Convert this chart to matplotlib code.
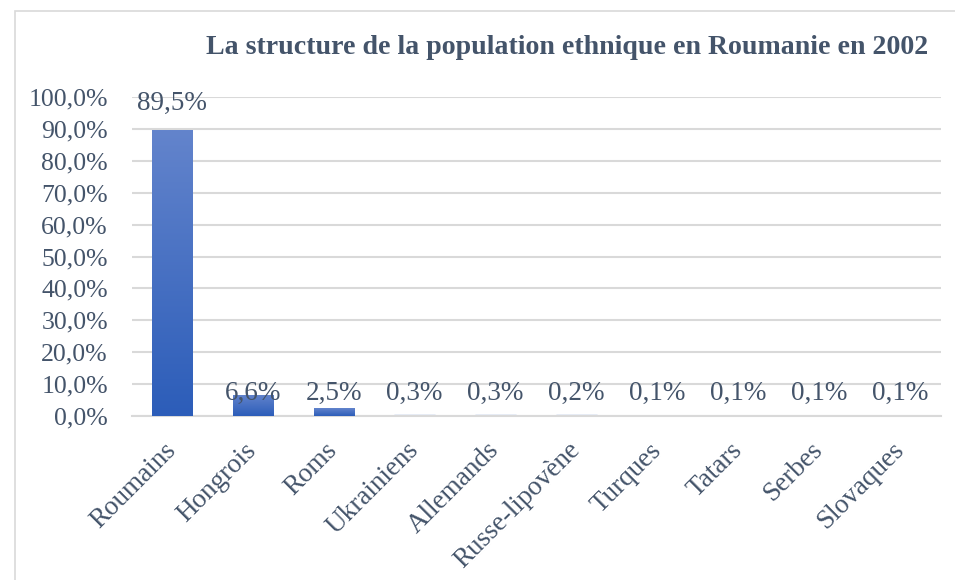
import matplotlib
matplotlib.use("Agg")
import matplotlib.pyplot as plt
import numpy as np
from matplotlib.colors import LinearSegmentedColormap
from matplotlib.patches import Rectangle

categories = ["Roumains", "Hongrois", "Roms", "Ukrainiens", "Allemands",
              "Russe-lipovène", "Turques", "Tatars", "Serbes", "Slovaques"]
values = [89.5, 6.6, 2.5, 0.3, 0.3, 0.2, 0.1, 0.1, 0.1, 0.1]
yticks = [0, 10, 20, 30, 40, 50, 60, 70, 80, 90, 100]
title = "La structure de la population ethnique en Roumanie en 2002"

txt = "#44546A"
grid = "#D9D9D9"
plt.rcParams['font.family'] = ['Liberation Serif', 'DejaVu Serif']

fig = plt.figure(figsize=(9.55, 5.8), dpi=100)
W, H = 955, 580
ax = fig.add_axes([131.5 / W, 1 - 416 / H, (940.5 - 131.5) / W, (416 - 97) / H])

# outer border
fig.patches.append(Rectangle((15 / W, -0.01), 1.0, 1 - 11 / H + 0.01, transform=fig.transFigure,
                             fill=False, edgecolor="#D9D9D9", lw=1.2))

x = np.arange(len(categories))
bars = ax.bar(x, values, width=0.5, color="#4A75C9", zorder=2)
cmap = LinearSegmentedColormap.from_list("g", ["#2C5DB9", "#6384CC"])
grad = np.linspace(0, 1, 256).reshape(-1, 1)
for b in bars:
    x0 = b.get_x(); w = b.get_width(); h = b.get_height()
    if h < 1:
        b.set_color("#8FA8DC")
        continue
    im = ax.imshow(grad, extent=[x0, x0 + w, 0, h], origin="lower", aspect="auto",
                   cmap=cmap, zorder=3)
    im.set_clip_path(b)

for xi, v in zip(x, values):
    ypos = v + 8.6 if v > 50 else 7.2
    ax.text(xi, ypos, f"{v:.1f}%".replace(".", ","), ha="center", va="center",
            fontsize=19.5, color=txt, zorder=4)

ax.set_xlim(-0.5, len(categories) - 0.5)
ax.set_ylim(0, 100)
ax.set_yticks(yticks)
ax.set_yticklabels([f"{t:.1f}%".replace(".", ",") for t in yticks], fontsize=18.5, color=txt)
ax.set_xticks(x)
ax.set_xticklabels(categories, rotation=45, ha="right", va="center", rotation_mode="anchor",
                   fontsize=19.5, color=txt)
ax.tick_params(length=0)
ax.tick_params(axis="y", pad=17)
ax.tick_params(axis="x", pad=22)
ax.grid(axis="y", color=grid, lw=1.5, zorder=0)
ax.set_axisbelow(True)
for s in ["top", "right", "left"]:
    ax.spines[s].set_visible(False)
ax.spines["bottom"].set_color(grid)
ax.spines["bottom"].set_linewidth(1.5)
ax.spines["bottom"].set_zorder(2.5)

fig.text(928 / W, 1 - 48 / H, title, ha="right", va="center", fontsize=20.1,
         fontweight="bold", color=txt)

fig.savefig("out.png", dpi=100, facecolor="white")
